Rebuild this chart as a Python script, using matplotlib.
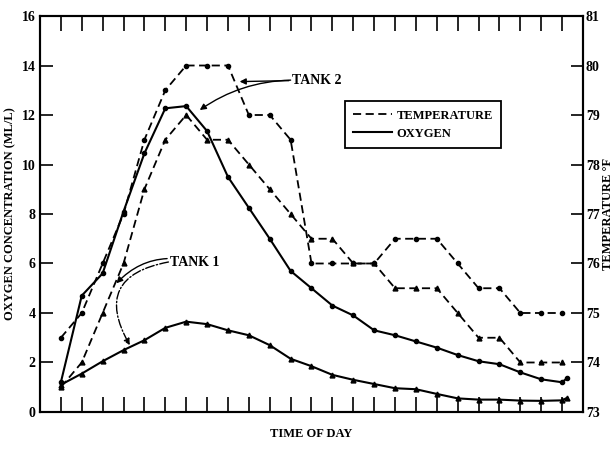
import matplotlib
matplotlib.use("Agg")
import matplotlib.pyplot as plt

plt.rcParams['font.family'] = ['Liberation Serif', 'DejaVu Serif']
plt.rcParams['font.weight'] = 'bold'
plt.rcParams['axes.labelweight'] = 'bold'

# hours after midnight, 0800 -> 0800 next day
hours = list(range(8, 33))
tick_hours = [8, 12, 16, 20, 24, 28, 32]
tick_labels = ['0800', '1200', '1600', '2000', '2400', '0400', '0800']

# oxygen (ml/l)
tank2_oxy = [1.2, 4.7, 5.6, 8.1, 10.45, 12.27, 12.36, 11.35, 9.5, 8.25, 7.0, 5.7, 5.0,
             4.3, 3.9, 3.3, 3.1, 2.85, 2.6, 2.3, 2.05, 1.93, 1.6, 1.32, 1.2]
tank1_oxy = [1.1, 1.55, 2.05, 2.5, 2.9, 3.4, 3.65, 3.55, 3.3, 3.1, 2.7, 2.15, 1.85,
             1.5, 1.3, 1.13, 0.96, 0.92, 0.73, 0.55, 0.5, 0.5, 0.46, 0.45, 0.47]
# last reading just after 0800
end_hour = 32.25
tank2_oxy_end = 1.38
tank1_oxy_end = 0.58

# temperature (deg F)
tank2_temp = [74.5, 75, 76, 77, 78.5, 79.5, 80, 80, 80, 79, 79, 78.5, 76,
              76, 76, 76, 76.5, 76.5, 76.5, 76, 75.5, 75.5, 75, 75, 75]
tank1_temp = [73.5, 74, 75, 76, 77.5, 78.5, 79, 78.5, 78.5, 78, 77.5, 77, 76.5,
              76.5, 76, 76, 75.5, 75.5, 75.5, 75, 74.5, 74.5, 74, 74, 74]

fig = plt.figure(figsize=(6.15, 4.51), dpi=100)
ax = fig.add_axes([0.065, 0.0865, 0.883, 0.878])
ax2 = ax.twinx()

dash = (0, (4.5, 2.5))
ax.plot(hours + [end_hour], tank2_oxy + [tank2_oxy_end], color='black', lw=1.5,
        marker='o', ms=3)
ax.plot(hours + [end_hour], tank1_oxy + [tank1_oxy_end], color='black', lw=1.5,
        marker='^', ms=3.5)
ax2.plot(hours, tank2_temp, color='black', lw=1.3, ls=dash, marker='o', ms=3)
ax2.plot(hours, tank1_temp, color='black', lw=1.3, ls=dash, marker='^', ms=3.5)

ax.set_xlim(7, 33)
ax.set_ylim(0, 16)
ax2.set_ylim(73, 81)

ax.set_xticks(hours)
ax.set_xticklabels([''] * len(hours))
ax.set_xticks(tick_hours, minor=True)
ax.set_xticklabels(tick_labels, minor=True)
ax.tick_params(axis='x', which='major', direction='in', length=11, width=1.2,
               top=True)
ax.tick_params(axis='x', which='minor', length=0, pad=8, labelsize=10.5)
ax.tick_params(axis='y', direction='in', length=9, width=1.2, pad=3, labelsize=10)
ax2.tick_params(axis='y', direction='in', length=9, width=1.2, pad=2, labelsize=10)
ax.set_yticks(range(0, 17, 2))
ax2.set_yticks(range(73, 82))

for lab in (ax.get_xticklabels(minor=True) + ax.get_yticklabels()
            + ax2.get_yticklabels()):
    lab.set_fontweight('bold')

for a in (ax, ax2):
    for s in a.spines.values():
        s.set_linewidth(1.5)

ax.set_xlabel('TIME OF DAY', fontsize=9, labelpad=8, fontweight='bold')
ax.set_ylabel('OXYGEN CONCENTRATION (ML/L)', fontsize=9, labelpad=4,
              fontweight='bold')
ax2.set_ylabel('TEMPERATURE \u00b0F', fontsize=9, labelpad=2, fontweight='bold')

# legend
h_t, = ax.plot([], [], color='black', lw=1.3, ls=dash)
h_o, = ax.plot([], [], color='black', lw=1.5)
leg = ax.legend([h_t, h_o], ['TEMPERATURE', 'OXYGEN'], loc='upper left',
                bbox_to_anchor=(0.55, 0.80), fancybox=False, framealpha=1,
                edgecolor='black', handlelength=3.1,
                borderpad=0.65, labelspacing=0.5, handletextpad=0.4,
                prop={'weight': 'bold', 'size': 9})
leg.get_frame().set_linewidth(1.3)

# tank labels with arrows
arr = dict(arrowstyle='-|>', color='black', lw=1, mutation_scale=9)
ax.annotate('TANK 2', xy=(16.56, 13.35), xytext=(19.05, 13.41), fontsize=10,
            fontweight='bold', va='center', ha='left',
            arrowprops=dict(arr, shrinkA=0, shrinkB=0))
ax.annotate('', xy=(14.65, 12.2), xytext=(19.0, 13.41),
            arrowprops=dict(arr, shrinkA=0, shrinkB=0,
                            connectionstyle='arc3,rad=0.15'))
ax.annotate('TANK 1', xy=(10.66, 5.2), xytext=(13.22, 6.06), fontsize=10,
            fontweight='bold', va='center', ha='left',
            arrowprops=dict(arr, shrinkA=0, shrinkB=0,
                            connectionstyle='arc3,rad=0.3'))
ax.annotate('', xy=(11.3, 2.7), xytext=(13.15, 6.06),
            arrowprops=dict(arr, shrinkA=0, shrinkB=0, ls='-.',
                            connectionstyle='arc3,rad=0.7'))

fig.savefig('out.png', dpi=100)
